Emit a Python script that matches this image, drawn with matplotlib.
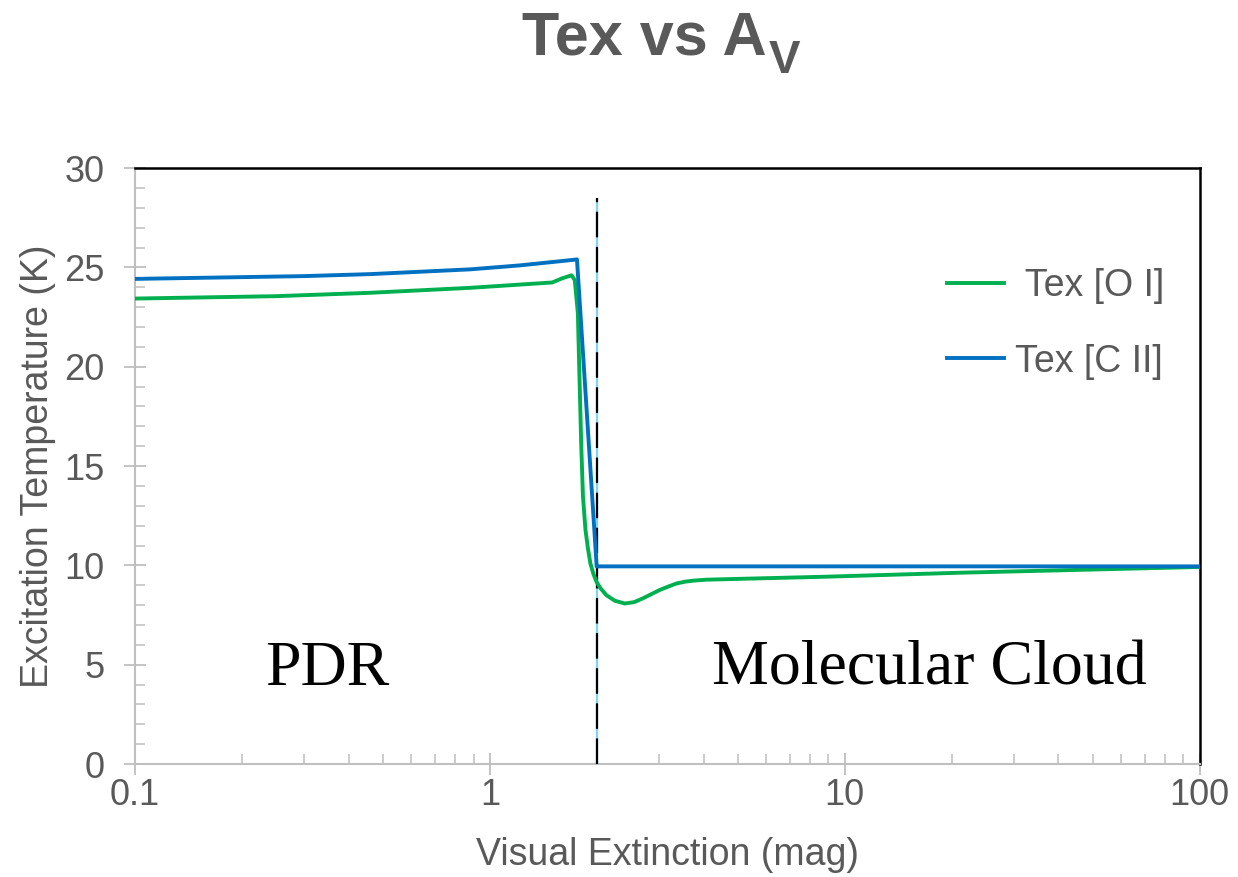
import matplotlib
matplotlib.use("Agg")
import matplotlib.pyplot as plt
from matplotlib.ticker import LogLocator, MultipleLocator, FixedLocator, FixedFormatter

plt.rcParams['font.family'] = ['Liberation Sans', 'DejaVu Sans']

# excitation temperature along the cloud depth
av_oi  = [0.1, 0.25, 0.46, 0.88, 1.5, 1.60, 1.70, 1.735, 1.77, 1.79, 1.81, 1.83,
          1.86, 1.89, 1.92, 1.96, 2.0, 2.05, 2.13, 2.25, 2.40, 2.55, 2.70, 2.85,
          3.01, 3.2, 3.36, 3.55, 3.74, 4.07, 8.87, 21.1, 100]
tex_oi = [23.43, 23.55, 23.72, 23.97, 24.24, 24.45, 24.6, 24.36, 22.7, 19.3, 15.97, 13.45,
          11.78, 10.85, 10.1, 9.55, 9.15, 8.85, 8.5, 8.22, 8.08, 8.15, 8.34, 8.55,
          8.76, 8.95, 9.09, 9.18, 9.23, 9.28, 9.43, 9.63, 9.92]

av_cii  = [0.1, 0.3, 0.46, 0.88, 1.215, 1.68, 1.76, 2.0, 100]
tex_cii = [24.42, 24.56, 24.66, 24.9, 25.1, 25.36, 25.4, 9.95, 9.95]

divider_av  = 2.0
divider_top = 28.5

region_labels = ['PDR', 'Molecular Cloud']
region_av     = [0.232, 4.22]
region_tex    = [4.0, 4.0]

xticks = [0.1, 1, 10, 100]
xtick_labels = ['0.1', '1', '10', '100']

green = '#00B050'
blue  = '#0070C0'
grey_txt = '#595959'
grey_ax  = '#BFBFBF'

fig = plt.figure(figsize=(12.38, 8.77), dpi=100)
ax = fig.add_axes([0.109, 0.1288, 0.860, 0.6796])

ax.vlines(divider_av, 0, divider_top, color='#7FD3F7', linewidth=1.6, zorder=3)
ax.vlines(divider_av, 0, divider_top, color='black', linewidth=1.6,
          linestyles=[(0, (11.5, 4.3))], zorder=3)

ax.plot(av_oi, tex_oi, color=green, linewidth=2.8, label=' Tex [O I]', zorder=4)
ax.plot(av_cii, tex_cii, color=blue, linewidth=2.8, label='Tex [C II]', zorder=5)

ax.set_xscale('log')
ax.set_xlim(0.1, 100)
ax.set_ylim(0, 30)

ax.xaxis.set_major_locator(FixedLocator(xticks))
ax.xaxis.set_major_formatter(FixedFormatter(xtick_labels))
ax.xaxis.set_minor_locator(LogLocator(base=10, subs=range(2, 10)))
ax.xaxis.set_minor_formatter(FixedFormatter([]))
ax.yaxis.set_major_locator(MultipleLocator(5))
ax.yaxis.set_minor_locator(MultipleLocator(1))

ax.tick_params(which='major', direction='inout', length=16, width=1.3,
               color=grey_ax, labelcolor=grey_txt, labelsize=26)
ax.tick_params(which='minor', direction='in', length=7, width=1.1, color=grey_ax)
ax.tick_params(axis='y', which='major', pad=14)
ax.tick_params(axis='x', which='major', pad=2)

for side in ['left', 'bottom']:
  ax.spines[side].set_color(grey_ax)
  ax.spines[side].set_linewidth(1.5)
for side in ['top', 'right']:
  ax.spines[side].set_color('black')
  ax.spines[side].set_linewidth(1.8)

ax.set_xlabel('Visual Extinction (mag)', fontsize=27, color=grey_txt, labelpad=17)
ax.set_ylabel('Excitation Temperature (K)', fontsize=27, color=grey_txt, labelpad=6)

for txt, xv, yv in zip(region_labels, region_av, region_tex):
  ax.text(xv, yv, txt, fontsize=46, family='Liberation Serif', color='black',
          ha='left', va='baseline')

leg = ax.legend(loc='upper left', bbox_to_anchor=(0.763, 0.832), frameon=False,
                fontsize=27, handlelength=1.5, handletextpad=0.3, labelspacing=1.05,
                borderpad=0, borderaxespad=0)
for t in leg.get_texts():
  t.set_color(grey_txt)

# title with a lowered subscript V
fig.text(0.4216, 0.9373, 'Tex vs A', fontsize=44, fontweight='bold',
         color=grey_txt, ha='left', va='baseline')
fig.text(0.621, 0.917, 'V', fontsize=34, fontweight='bold',
         color=grey_txt, ha='left', va='baseline')

fig.savefig('out.png', dpi=100)
